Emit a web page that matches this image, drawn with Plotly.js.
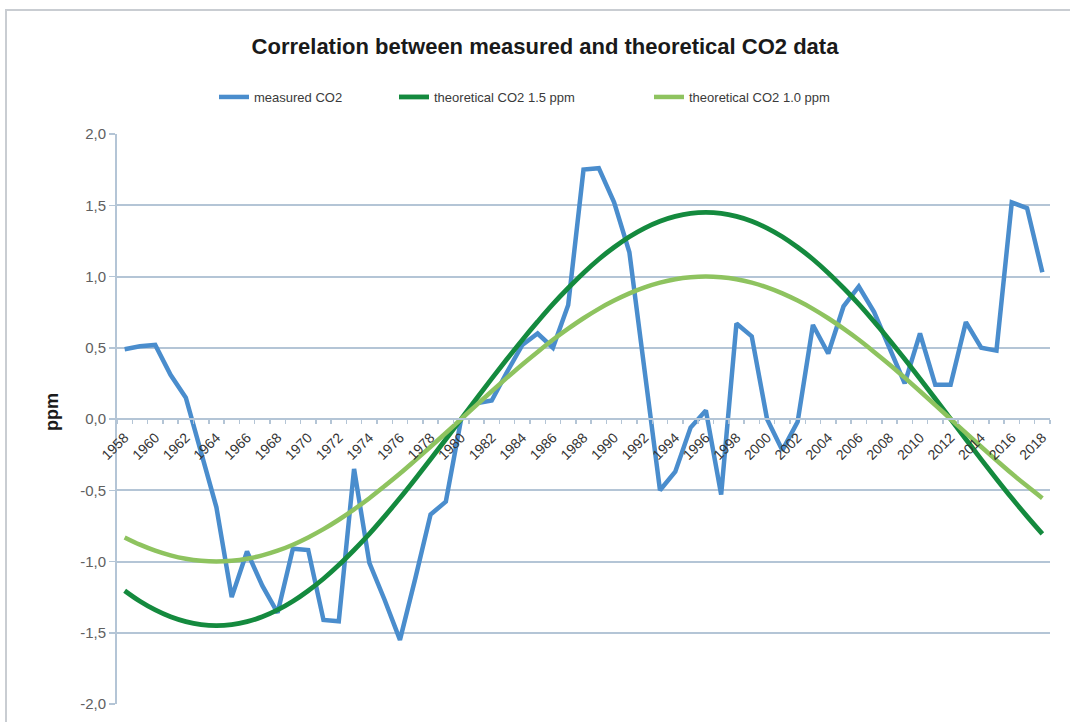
<!DOCTYPE html>
<html>
<head>
<meta charset="utf-8">
<script src="https://cdn.plot.ly/plotly-3.0.1.min.js"></script>
<style>
  html, body { margin: 0; padding: 0; background: #ffffff; }
  #wrap { position: relative; width: 1070px; height: 722px; overflow: hidden; }
  #chart { position: absolute; left: 0; top: 0; width: 1070px; height: 722px; }
  #frame { position: absolute; left: 5px; top: 9px; width: 1100px; height: 760px;
           border-left: 2px solid #c9cdd2; border-top: 2px solid #c9cdd2; pointer-events: none; }
</style>
</head>
<body>
<div id="wrap">
  <div id="chart"></div>
  <div id="frame"></div>
</div>
<script>
// Years 1958..2018
const years = [1958,1959,1960,1961,1962,1963,1964,1965,1966,1967,1968,1969,1970,1971,1972,1973,1974,1975,1976,1977,
  1978,1979,1980,1981,1982,1983,1984,1985,1986,1987,1988,1989,1990,1991,1992,1993,1994,1995,1996,1997,
  1998,1999,2000,2001,2002,2003,2004,2005,2006,2007,2008,2009,2010,2011,2012,2013,2014,2015,2016,2017,2018];

const measuredCO2 = [0.49,0.51,0.52,0.31,0.15,-0.24,-0.62,-1.25,-0.93,-1.17,-1.36,-0.91,-0.92,-1.41,-1.42,-0.35,-1.01,-1.27,-1.55,-1.12,
  -0.67,-0.58,0.00,0.11,0.13,0.33,0.52,0.60,0.50,0.80,1.75,1.76,1.52,1.17,0.35,-0.50,-0.37,-0.06,0.06,-0.53,
  0.67,0.58,0.00,-0.22,-0.02,0.66,0.46,0.79,0.93,0.75,0.50,0.25,0.60,0.24,0.24,0.68,0.50,0.48,1.52,1.48,1.03];

const theoretical15 = [-1.205,-1.279,-1.340,-1.388,-1.422,-1.443,-1.450,-1.443,-1.422,-1.388,-1.340,-1.279,-1.205,-1.121,-1.025,-0.919,-0.806,-0.683,-0.555,-0.421,
  -0.283,-0.142,0.000,0.142,0.283,0.421,0.555,0.683,0.806,0.919,1.025,1.121,1.205,1.279,1.340,1.388,1.422,1.443,1.450,1.443,
  1.422,1.388,1.340,1.279,1.205,1.121,1.025,0.919,0.806,0.683,0.555,0.421,0.283,0.142,0.000,-0.142,-0.283,-0.421,-0.555,-0.683,-0.806];

const theoretical10 = [-0.831,-0.882,-0.924,-0.957,-0.981,-0.995,-1.000,-0.995,-0.981,-0.957,-0.924,-0.882,-0.831,-0.773,-0.707,-0.634,-0.556,-0.471,-0.383,-0.290,
  -0.195,-0.098,0.000,0.098,0.195,0.290,0.383,0.471,0.556,0.634,0.707,0.773,0.831,0.882,0.924,0.957,0.981,0.995,1.000,0.995,
  0.981,0.957,0.924,0.882,0.831,0.773,0.707,0.634,0.556,0.471,0.383,0.290,0.195,0.098,0.000,-0.098,-0.195,-0.290,-0.383,-0.471,-0.556];

const xTickVals = [1958,1960,1962,1964,1966,1968,1970,1972,1974,1976,1978,1980,1982,1984,1986,1988,
  1990,1992,1994,1996,1998,2000,2002,2004,2006,2008,2010,2012,2014,2016,2018];
const xTickText = xTickVals.map(String);

const yTickVals = [-2,-1.5,-1,-0.5,0,0.5,1,1.5,2];
const yTickText = ["-2,0","-1,5","-1,0","-0,5","0,0","0,5","1,0","1,5","2,0"];

const seriesNames = ["measured CO2","theoretical CO2 1.5 ppm","theoretical CO2 1.0 ppm"];
const seriesColors = ["#4a8dcd","#148a3e","#8ec35f"];

const traces = [
  {x: years, y: measuredCO2, name: seriesNames[0], type: 'scatter', mode: 'lines', legend: 'legend',
   line: {color: seriesColors[0], width: 4.5}},
  {x: years, y: theoretical15, name: seriesNames[1], type: 'scatter', mode: 'lines', legend: 'legend2',
   line: {color: seriesColors[1], width: 4.8, shape: 'spline'}},
  {x: years, y: theoretical10, name: seriesNames[2], type: 'scatter', mode: 'lines', legend: 'legend3',
   line: {color: seriesColors[2], width: 4.5, shape: 'spline'}}
];

const gridCol = '#b4c5d6';
const L = 117, R = 1050, T = 134, B = 704;
const pw = R - L, ph = B - T;

function legendAt(px) {
  return {
    orientation: 'h', xref: 'container', x: px / 1070, xanchor: 'left',
    yref: 'container', y: 1 - 97 / 722, yanchor: 'middle',
    font: {size: 13, color: '#3a3a3a'}, bgcolor: 'rgba(0,0,0,0)'
  };
}

const layout = {
  width: 1070, height: 722,
  margin: {l: L, r: 1070 - R, t: T, b: 722 - B, pad: 0},
  paper_bgcolor: '#ffffff', plot_bgcolor: '#ffffff',
  font: {family: 'Liberation Sans, Arial, sans-serif', color: '#333333'},
  title: {
    text: 'Correlation between measured and theoretical CO2 data',
    font: {family: 'Liberation Sans, Arial, sans-serif', size: 22, color: '#1a1a1a', weight: 'bold'},
    xref: 'paper', x: (545 - L) / pw, xanchor: 'center',
    yref: 'container', y: 1 - 46 / 722, yanchor: 'middle'
  },
  showlegend: true,
  legend: legendAt(214),
  legend2: legendAt(394),
  legend3: legendAt(649),
  xaxis: {
    range: [1957.5, 2018.5], anchor: 'free', position: 0.5,
    tickmode: 'array', tickvals: xTickVals, ticktext: xTickText, tickangle: -45,
    ticks: '', showgrid: false, zeroline: false, ticklabelstandoff: 4,
    showline: true, linecolor: gridCol, linewidth: 2,
    tickfont: {size: 14, color: '#333333'},
    minor: {tickmode: 'linear', tick0: 1957.5, dtick: 1, ticks: 'outside', ticklen: 4, tickcolor: gridCol, tickwidth: 1.5, showgrid: false},
    fixedrange: true
  },
  yaxis: {
    range: [-2, 2], tickmode: 'array', tickvals: yTickVals, ticktext: yTickText,
    ticks: 'outside', ticklen: 6, tickcolor: gridCol, tickwidth: 1.5,
    showgrid: true, gridcolor: gridCol, gridwidth: 2, zeroline: false,
    showline: true, linecolor: gridCol, linewidth: 2,
    tickfont: {size: 15, color: '#606060'},
    fixedrange: true
  },
  annotations: [{
    text: '<b>ppm</b>', textangle: -90, showarrow: false,
    xref: 'paper', x: (52 - L) / pw, xanchor: 'center',
    yref: 'paper', y: (B - 412) / ph, yanchor: 'middle',
    font: {size: 18, color: '#1a1a1a'}
  }]
};

Plotly.newPlot('chart', traces, layout, {displayModeBar: false, staticPlot: true});
</script>
</body>
</html>
